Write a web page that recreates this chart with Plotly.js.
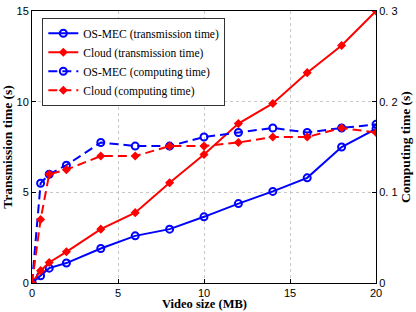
<!DOCTYPE html>
<html><head><meta charset="utf-8">
<script src="https://cdn.plot.ly/plotly-3.0.1.min.js"></script>
<style>html,body{margin:0;padding:0;background:#fff}#chart{width:416px;height:312px}</style>
</head><body><div id="chart"></div>
<script>
const videoSize = [0, 0.5, 1, 2, 4, 6, 8, 10, 12, 14, 16, 18, 20];
const osmecTrans = [0, 0.4, 0.82, 1.1, 1.9, 2.6, 2.97, 3.65, 4.38, 5.05, 5.8, 7.5, 8.5];
const cloudTrans = [0, 0.68, 1.13, 1.72, 2.97, 3.88, 5.53, 7.09, 8.79, 9.9, 11.6, 13.1, 15.0];
const osmecComp = [0, 0.11, 0.12, 0.13, 0.155, 0.151, 0.151, 0.161, 0.166, 0.171, 0.166, 0.171, 0.175];
const cloudComp = [0, 0.07, 0.12, 0.125, 0.14, 0.14, 0.151, 0.151, 0.155, 0.161, 0.161, 0.171, 0.166];
const leftTicks = [0, 5, 10, 15];
const rightTicks = [0, 0.1, 0.2, 0.3];
const rightTickText = ['0', '0. 1', '0. 2', '0. 3'];
const xTicks = [0, 5, 10, 15, 20];

const blue = '#0000ff', red = '#ff0000';
const traces = [
  {x: videoSize, y: osmecTrans, name: 'OS-MEC (transmission time)', mode: 'lines+markers',
   line: {color: blue, width: 2}, marker: {symbol: 'circle-open', size: 7, color: blue, line: {width: 2, color: blue}}},
  {x: videoSize, y: cloudTrans, name: 'Cloud (transmission time)', mode: 'lines+markers',
   line: {color: red, width: 2}, marker: {symbol: 'diamond', size: 7, color: red}},
  {x: videoSize, y: osmecComp, name: 'OS-MEC (computing time)', mode: 'lines+markers', yaxis: 'y2',
   line: {color: blue, width: 2, dash: '9px,5px'}, marker: {symbol: 'circle-open', size: 7, color: blue, line: {width: 2, color: blue}}},
  {x: videoSize, y: cloudComp, name: 'Cloud (computing time)', mode: 'lines+markers', yaxis: 'y2',
   line: {color: red, width: 2, dash: '9px,5px'}, marker: {symbol: 'diamond', size: 7, color: red}}
];
const tickFont = {family: 'Liberation Sans, Arial, sans-serif', size: 11, color: '#000'};
const titleFont = {family: 'Liberation Serif, Times New Roman, serif', size: 13.5, color: '#000', weight: 'bold'};
const layout = {
  width: 416, height: 312,
  margin: {l: 32, r: 40, t: 11, b: 29},
  paper_bgcolor: '#fff', plot_bgcolor: '#fff',
  showlegend: true,
  legend: {x: 0.03, y: 0.975, xanchor: 'left', yanchor: 'top', bgcolor: '#fff', bordercolor: '#333', borderwidth: 1,
    font: {family: 'Liberation Serif, Times New Roman, serif', size: 11.5, color: '#000'}, tracegroupgap: 0, itemwidth: 30},
  xaxis: {range: [0, 20], tickvals: xTicks, ticks: 'inside', ticklen: 4, tickcolor: '#000',
    showline: true, linecolor: '#000', linewidth: 1, mirror: true, zeroline: false, automargin: false,
    showgrid: true, gridcolor: '#c8c8c8', griddash: 'dot', gridwidth: 1, tickfont: tickFont},
  yaxis: {range: [0, 15], tickvals: leftTicks, ticks: 'inside', ticklen: 4, tickcolor: '#000',
    showline: true, linecolor: '#000', linewidth: 1, mirror: true, zeroline: false,
    showgrid: true, gridcolor: '#c8c8c8', griddash: 'dot', gridwidth: 1, tickfont: tickFont,
    title: {text: 'Transmission time (s)', font: titleFont, standoff: 0}},
  yaxis2: {range: [0, 0.3], overlaying: 'y', side: 'right', tickvals: rightTicks, ticktext: rightTickText,
    ticks: 'inside', ticklen: 4, tickcolor: '#000', showline: true, linecolor: '#000', linewidth: 1,
    showgrid: false, zeroline: false, tickfont: tickFont,
    title: {text: 'Computing time (s)', font: titleFont, standoff: 0}},
  annotations: [{text: '<b>Video size (MB)</b>', xref: 'paper', yref: 'paper', x: 0.5, y: -0.1066,
    xanchor: 'center', yanchor: 'bottom', showarrow: false, borderpad: 0,
    font: {family: 'Liberation Serif, Times New Roman, serif', size: 12.5, color: '#000'}}]
};
Plotly.newPlot('chart', traces, layout, {displayModeBar: false, staticPlot: true});
</script></body></html>
